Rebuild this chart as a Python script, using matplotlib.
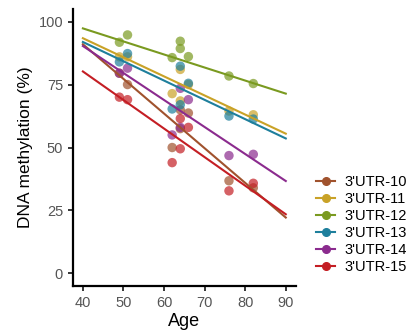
import matplotlib
matplotlib.use("Agg")
import matplotlib.pyplot as plt
from matplotlib.lines import Line2D

plt.rcParams['font.family'] = ['Liberation Sans', 'DejaVu Sans']

series = ["3'UTR-10", "3'UTR-11", "3'UTR-12", "3'UTR-13", "3'UTR-14", "3'UTR-15"]
colors = ["#A0522D", "#C9A227", "#7A9A20", "#1E7F9C", "#8B2B8E", "#C41E24"]

ages = [49, 51, 62, 64, 64, 66, 76, 82]
meth_10 = [79.5, 75.0, 50.0, 65.0, 57.5, 63.7, 36.8, 34.0]
meth_11 = [86.0, 86.0, 71.4, 81.0, 68.5, 75.0, 64.5, 63.0]
meth_12 = [91.8, 94.7, 85.7, 92.2, 89.3, 86.1, 78.4, 75.4]
meth_13 = [84.0, 87.3, 65.3, 82.3, 67.0, 75.5, 62.5, 61.3]
meth_14 = [79.5, 81.5, 55.0, 73.5, 58.0, 69.0, 46.8, 47.3]
meth_15 = [70.0, 69.0, 44.0, 61.5, 49.5, 58.0, 32.8, 35.8]
values = [meth_10, meth_11, meth_12, meth_13, meth_14, meth_15]

fit_x = [40, 90]
fit_start = [91.0, 93.4, 97.3, 91.9, 90.3, 80.2]
fit_end = [22.2, 55.5, 71.4, 53.6, 36.7, 23.5]

fig = plt.figure(figsize=(4.11, 3.33), dpi=100)
ax = fig.add_axes([0.177, 0.141, 0.543, 0.832])

for name, col, vals in zip(series, colors, values):
    ax.scatter(ages, vals, s=46, color=col, alpha=0.7, edgecolors='none', zorder=2)
for name, col, y0, y1 in zip(series, colors, fit_start, fit_end):
    ax.plot(fit_x, [y0, y1], color=col, lw=1.5, zorder=3)

ax.set_xlim(37.5, 92.5)
ax.set_ylim(-5, 105)
ax.set_xticks([40, 50, 60, 70, 80, 90])
ax.set_yticks([0, 25, 50, 75, 100])
for s in ['top', 'right']:
    ax.spines[s].set_visible(False)
for s in ['left', 'bottom']:
    ax.spines[s].set_linewidth(1.6)
ax.tick_params(axis='both', labelsize=10.5, labelcolor='#555555', length=3.5, width=1.1)
ax.set_xlabel('Age', fontsize=13, labelpad=2)
ax.set_ylabel('DNA methylation (%)', fontsize=12.5, labelpad=4)

handles = [Line2D([0], [0], color=c, lw=1.5, marker='o', markersize=5.5) for c in colors]
fig.legend(handles, series, loc='center left', bbox_to_anchor=(0.745, 0.325),
           frameon=False, fontsize=10.5, handlelength=1.3, handletextpad=0.6,
           labelspacing=0.2, borderpad=0.2)

fig.savefig('out.png', dpi=100)
